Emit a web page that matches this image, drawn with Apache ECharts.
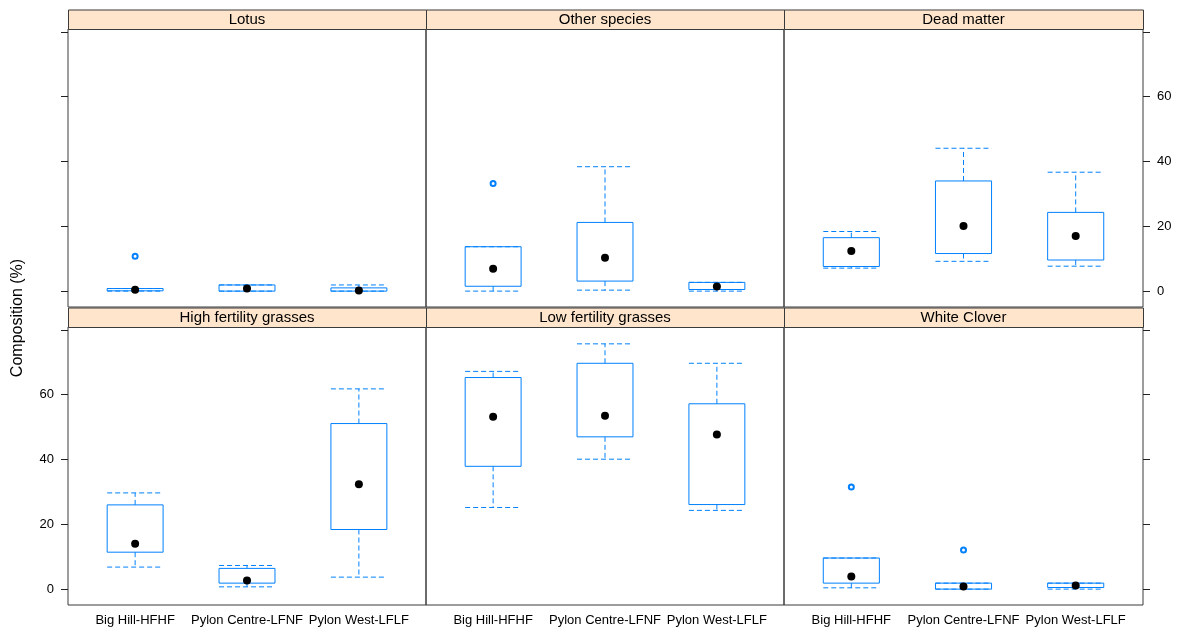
<!DOCTYPE html>
<html>
<head>
<meta charset="utf-8">
<title>Composition by site</title>
<script src="https://cdn.jsdelivr.net/npm/echarts@6/dist/echarts.min.js"></script>
<style>
  html, body { margin: 0; padding: 0; background: #fff; }
  #chart { width: 1181px; height: 628px; }
</style>
</head>
<body>
<div id="chart"></div>
<script>
// Sites on the x axis
const categories = ['Big Hill-HFHF', 'Pylon Centre-LFNF', 'Pylon West-LFLF'];

// Panel titles, in drawing order (top row then bottom row)
const panelNames = ['Lotus', 'Other species', 'Dead matter',
                    'High fertility grasses', 'Low fertility grasses', 'White Clover'];

// Box statistics per site: [lower whisker, Q1, median, Q3, upper whisker]
const lotus         = [[0, 0.1, 0.4, 0.8, 0.8], [0, 0, 0.8, 1.9, 1.9], [0, 0, 0.2, 1.0, 1.9]];
const otherSpecies  = [[0, 1.5, 6.9, 13.7, 13.7], [0.3, 3.1, 10.3, 21.2, 38.4], [0, 0.5, 1.45, 2.7, 2.7]];
const deadMatter    = [[7.1, 7.6, 12.4, 16.5, 18.4], [9.2, 11.6, 20.1, 34.0, 44.1], [7.7, 9.6, 17.0, 24.3, 36.7]];
const highFertility = [[6.8, 11.4, 14.0, 26.0, 29.7], [0.7, 1.85, 2.7, 6.4, 7.3], [3.7, 18.4, 32.4, 51.1, 61.8]];
const lowFertility  = [[25.2, 37.9, 53.2, 65.3, 67.2], [40.1, 47.0, 53.5, 69.7, 75.7], [24.3, 26.1, 47.7, 57.2, 69.7]];
const whiteClover   = [[0.4, 1.85, 3.9, 9.6, 9.6], [0, 0, 0.8, 1.85, 1.85], [0, 0.5, 1.1, 1.85, 1.85]];

// Outlying points per panel: [site index (1-based), value]
const lotusOutliers        = [[1, 10.8]];
const otherSpeciesOutliers = [[1, 33.2]];
const deadMatterOutliers   = [];
const highFertOutliers     = [];
const lowFertOutliers      = [];
const whiteCloverOutliers  = [[1, 31.5], [2, 12.1]];

// Axis ticks
const yTicks = [0, 20, 40, 60, 80];
const yTickLabels = [0, 20, 40, 60];

const panelBoxes = [lotus, otherSpecies, deadMatter, highFertility, lowFertility, whiteClover];
const panelOutliers = [lotusOutliers, otherSpeciesOutliers, deadMatterOutliers,
                       highFertOutliers, lowFertOutliers, whiteCloverOutliers];

const BLUE = '#0080ff';
const FONT = '"Liberation Sans", Arial, sans-serif';
const colLeft = [68, 426, 784];
const colWidth = [358, 358, 359];
const rowTop = [29, 327];
const rowHeight = 278;
const stripH = 19.5;
const BOX_HALF = 0.25;   // half box width in x units

const grids = [], xAxes = [], yAxes = [], series = [], graphics = [];

for (let p = 0; p < 6; p++) {
  const row = Math.floor(p / 3), col = p % 3;
  grids.push({
    left: colLeft[col], top: rowTop[row], width: colWidth[col], height: rowHeight,
    show: true, borderColor: '#3a3a3a', borderWidth: 1, backgroundColor: 'transparent'
  });

  xAxes.push({
    gridIndex: p, type: 'value', min: 0.4, max: 3.6,
    axisLine: { show: false }, axisTick: { show: false }, splitLine: { show: false },
    axisLabel: {
      show: row === 1,
      customValues: [1, 2, 3],
      formatter: v => categories[Math.round(v) - 1] || '',
      margin: 9, fontSize: 13, color: '#000', fontFamily: FONT
    }
  });

  // Alternating tick labels: bottom-left and top-right carry numbers
  const hasAxis = col !== 1;
  const showLabels = (row === 1 && col === 0) || (row === 0 && col === 2);
  yAxes.push({
    gridIndex: p, type: 'value', min: -4.9, max: 80.9,
    position: col === 2 ? 'right' : 'left',
    axisLine: { show: false }, splitLine: { show: false },
    axisTick: {
      show: hasAxis, customValues: yTicks, length: 7,
      lineStyle: { color: '#222', width: 1 }
    },
    axisLabel: {
      show: hasAxis && showLabels, customValues: yTickLabels,
      margin: 14, fontSize: 13, color: '#000', fontFamily: FONT
    }
  });

  const boxData = panelBoxes[p].map((b, i) => [i + 1].concat(b));

  series.push({
    type: 'custom', xAxisIndex: p, yAxisIndex: p, data: boxData, z: 2,
    renderItem: function (params, api) {
      const x = api.value(0);
      const lo = api.value(1), q1 = api.value(2), q3 = api.value(4), hi = api.value(5);
      const pl = api.coord([x - BOX_HALF, q1]);
      const pr = api.coord([x + BOX_HALF, q3]);
      const pc = api.coord([x, lo]);
      const yLo = pc[1], yQ1 = pl[1], yQ3 = pr[1], yHi = api.coord([x, hi])[1];
      const dash = { stroke: BLUE, lineWidth: 1, lineDash: [5, 3], fill: null };
      const children = [
        { type: 'line', shape: { x1: pc[0], y1: yQ3, x2: pc[0], y2: yHi }, style: dash },
        { type: 'line', shape: { x1: pc[0], y1: yQ1, x2: pc[0], y2: yLo }, style: dash },
        { type: 'line', shape: { x1: pl[0], y1: yHi, x2: pr[0], y2: yHi }, style: dash },
        { type: 'line', shape: { x1: pl[0], y1: yLo, x2: pr[0], y2: yLo }, style: dash },
        { type: 'rect', shape: { x: pl[0], y: yQ3, width: pr[0] - pl[0], height: yQ1 - yQ3 },
          style: { stroke: BLUE, lineWidth: 1, fill: 'rgba(255,255,255,0)' } }
      ];
      return { type: 'group', children: children };
    }
  });

  series.push({
    type: 'scatter', xAxisIndex: p, yAxisIndex: p, z: 4,
    data: panelBoxes[p].map((b, i) => [i + 1, b[2]]),
    symbol: 'circle', symbolSize: 8,
    itemStyle: { color: '#000', opacity: 1 }, silent: true
  });

  series.push({
    type: 'scatter', xAxisIndex: p, yAxisIndex: p, z: 3,
    data: panelOutliers[p],
    symbol: 'emptyCircle', symbolSize: 5,
    itemStyle: { color: BLUE, borderColor: BLUE, borderWidth: 1, opacity: 1 }, silent: true
  });

  // Strip above each panel
  const stripTop = rowTop[row] - stripH;
  graphics.push({
    type: 'rect', z: 10,
    shape: { x: colLeft[col] + 0.5, y: stripTop + 0.5, width: colWidth[col], height: stripH },
    style: { fill: '#ffe5cc', stroke: '#3a3a3a', lineWidth: 1 }
  });
  graphics.push({
    type: 'text', z: 11,
    x: colLeft[col] + colWidth[col] / 2, y: stripTop + stripH / 2 + 1,
    style: {
      text: panelNames[p], fill: '#000', font: '15px ' + FONT,
      align: 'center', verticalAlign: 'middle'
    }
  });
}

graphics.push({
  type: 'text', z: 11, x: 18, y: 318, rotation: Math.PI / 2,
  style: {
    text: 'Composition (%)', fill: '#000', font: '16px ' + FONT,
    align: 'center', verticalAlign: 'middle'
  }
});

const chart = echarts.init(document.getElementById('chart'), null, { renderer: 'canvas' });
chart.setOption({
  animation: false,
  backgroundColor: '#fff',
  grid: grids,
  xAxis: xAxes,
  yAxis: yAxes,
  series: series,
  graphic: graphics
});
</script>
</body>
</html>
